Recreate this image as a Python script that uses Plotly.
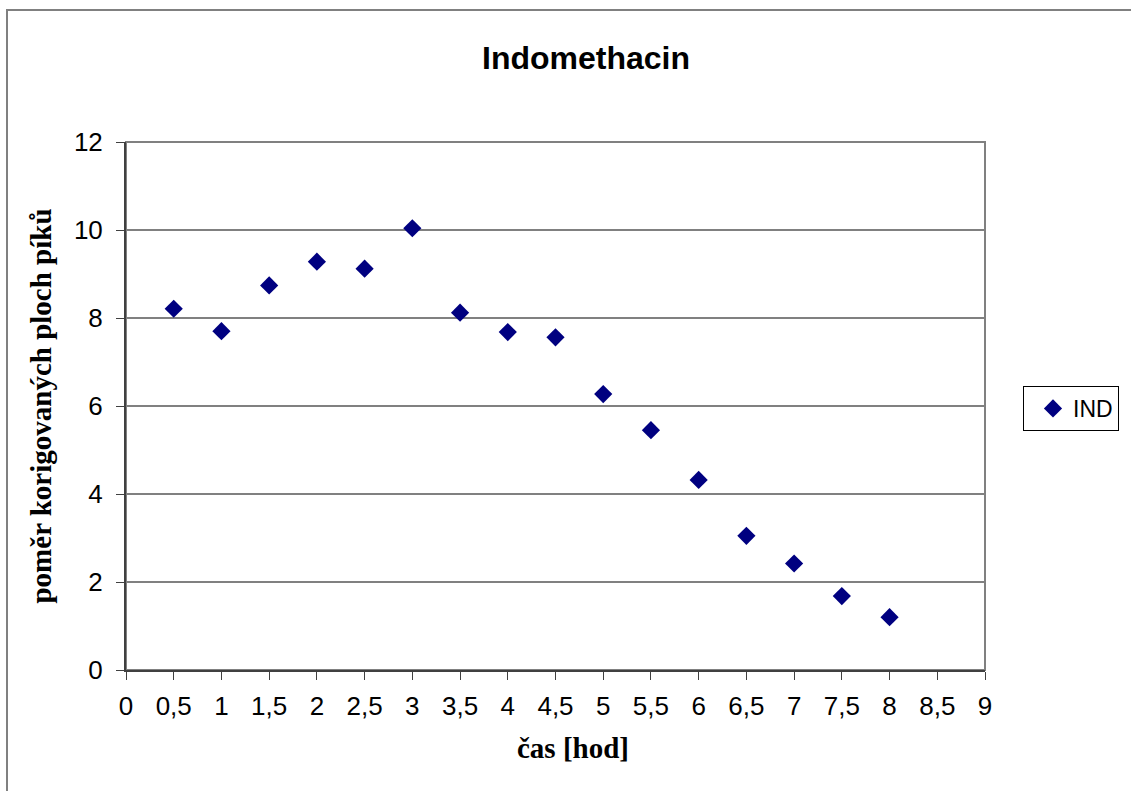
import plotly.graph_objects as go

time_h = [0.5, 1, 1.5, 2, 2.5, 3, 3.5, 4, 4.5, 5, 5.5, 6, 6.5, 7, 7.5, 8]
ind_ratio = [8.21, 7.70, 8.74, 9.28, 9.12, 10.04, 8.12, 7.68, 7.56, 6.27, 5.45, 4.32, 3.05, 2.42, 1.68, 1.20]

x_ticks = [0, 0.5, 1, 1.5, 2, 2.5, 3, 3.5, 4, 4.5, 5, 5.5, 6, 6.5, 7, 7.5, 8, 8.5, 9]
x_ticklabels = ["0", "0,5", "1", "1,5", "2", "2,5", "3", "3,5", "4", "4,5", "5", "5,5", "6", "6,5", "7", "7,5", "8", "8,5", "9"]
y_ticks = [0, 2, 4, 6, 8, 10, 12]
x_title = "čas [hod]"
y_title = "poměr korigovaných ploch píků"

fig = go.Figure()
fig.add_trace(go.Scatter(
    x=time_h, y=ind_ratio, mode="markers", name="IND",
    marker=dict(symbol="diamond", size=14, color="#000080", line=dict(width=0)),
))

L, R, T, B = 126, 1131 - 985, 142, 791 - 670
W, H = 1131, 791
pw, ph = W - L - R, H - T - B

def px_x(p):
    return (p - L) / pw

def px_y(p):
    return (H - B - p) / ph

fig.update_layout(
    width=W, height=H,
    margin=dict(l=L, r=R, t=T, b=B),
    paper_bgcolor="white", plot_bgcolor="white",
    separators=", ",
    title=dict(text="<b>Indomethacin</b>", x=586 / W, xanchor="center",
               y=1 - 58 / H, yanchor="middle",
               font=dict(family="Liberation Sans, Arial", size=32, color="black")),
    font=dict(family="Liberation Sans, Arial", size=24, color="black"),
    showlegend=True,
    legend=dict(x=px_x(1023), y=px_y(386), xanchor="left", yanchor="top",
                bordercolor="black", borderwidth=1, bgcolor="white",
                font=dict(family="Liberation Sans, Arial", size=23, color="black"),
                itemwidth=30, tracegroupgap=0, indentation=9),
    xaxis=dict(range=[0, 9], tickmode="array", tickvals=x_ticks, ticktext=x_ticklabels,
               showgrid=False, zeroline=False, showline=True, linecolor="#404040", linewidth=2,
               ticks="outside", ticklen=8, tickcolor="#404040", tickwidth=1,
               ticklabelstandoff=4,
               tickfont=dict(family="Liberation Sans, Arial", size=26, color="black")),
    yaxis=dict(range=[0, 12], tickmode="array", tickvals=y_ticks,
               showgrid=True, gridcolor="#808080", gridwidth=1.5, zeroline=False,
               showline=True, linecolor="#404040", linewidth=2,
               ticks="outside", ticklen=8, tickcolor="#404040", tickwidth=1,
               ticklabelstandoff=8,
               tickfont=dict(family="Liberation Sans, Arial", size=26, color="black"),
               title=dict(text="<b>" + y_title + "</b>", standoff=14,
                          font=dict(family="Liberation Serif, DejaVu Serif", size=29, color="black"))),
    annotations=[
        dict(text="<b>" + x_title + "</b>", xref="paper", yref="paper",
             x=px_x(573), y=px_y(748), xanchor="center", yanchor="middle", showarrow=False,
             font=dict(family="Liberation Serif, DejaVu Serif", size=29, color="black")),
    ],
    shapes=[
        dict(type="rect", xref="paper", yref="paper", x0=0, x1=1, y0=0, y1=1,
             line=dict(color="#808080", width=2), layer="below"),
        dict(type="rect", xref="paper", yref="paper", x0=px_x(7), x1=px_x(1160),
             y0=px_y(830), y1=px_y(10), line=dict(color="#808080", width=2), layer="below"),
    ],
)

fig.write_html("out.html")
